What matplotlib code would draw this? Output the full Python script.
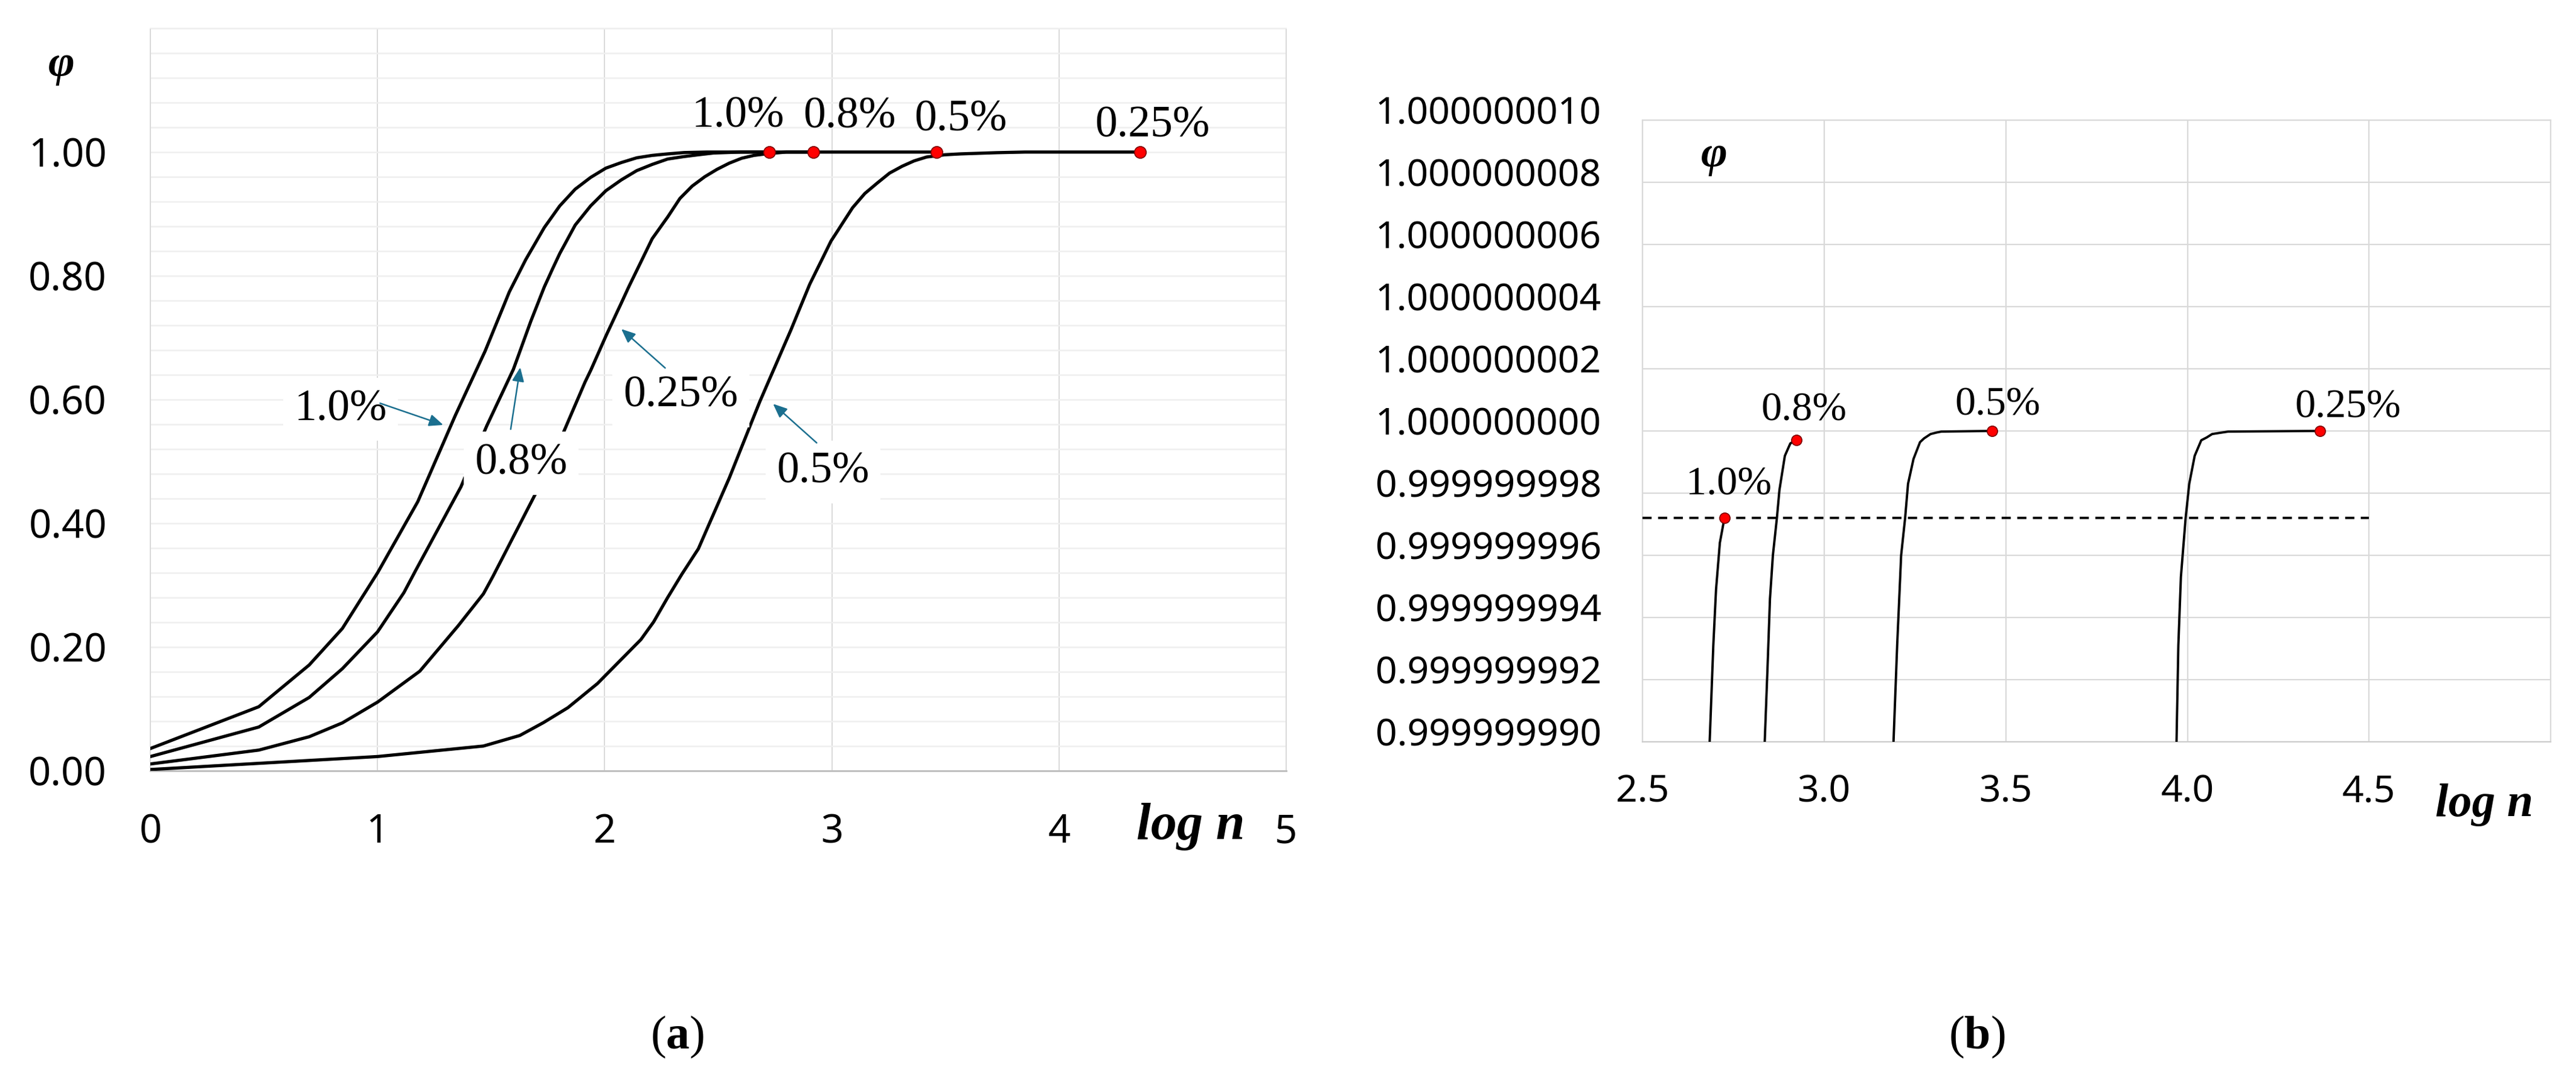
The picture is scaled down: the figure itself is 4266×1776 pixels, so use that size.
import numpy as np
import matplotlib
matplotlib.use("Agg")
import matplotlib.pyplot as plt
import matplotlib.transforms as mtransforms

plt.rcParams["mathtext.fontset"] = "custom"
plt.rcParams["mathtext.rm"] = "Liberation Serif"
plt.rcParams["mathtext.bf"] = "Liberation Serif:bold"
plt.rcParams["mathtext.it"] = "Liberation Serif:italic"

# ---- panel (a): phi vs log n ----
x_a_10 = [0, 0.477, 0.699, 0.845, 1.0, 1.177, 1.26, 1.343, 1.396, 1.473, 1.58, 1.652,
          1.734, 1.802, 1.870, 1.938, 2.005, 2.073, 2.141, 2.209, 2.277, 2.35, 2.45, 2.725]
phi_a_10 = [0.036, 0.1035, 0.171, 0.230, 0.320, 0.435, 0.505, 0.575, 0.617, 0.678, 0.774,
            0.826, 0.878, 0.913, 0.940, 0.959, 0.974, 0.983, 0.9907, 0.9946, 0.997, 0.9992,
            1.0, 1.0]

x_a_08 = [0, 0.477, 0.699, 0.845, 1.0, 1.116, 1.165, 1.367, 1.48, 1.598, 1.675, 1.734,
          1.77, 1.802, 1.870, 1.938, 2.005, 2.073, 2.141, 2.209, 2.277, 2.345, 2.412, 2.48,
          2.6, 2.918]
phi_a_08 = [0.023, 0.0707, 0.1185, 0.165, 0.2246, 0.288, 0.322, 0.459, 0.557, 0.649, 0.727,
            0.782, 0.811, 0.836, 0.882, 0.913, 0.9375, 0.955, 0.970, 0.980, 0.9887, 0.9925,
            0.9956, 0.9985, 1.0, 1.0]

x_a_05 = [0, 0.477, 0.699, 0.845, 1.0, 1.186, 1.354, 1.466, 1.509, 1.711, 1.802, 1.913,
          1.938, 2.008, 2.073, 2.103, 2.209, 2.277, 2.331, 2.385, 2.440, 2.494, 2.548, 2.603,
          2.657, 2.72, 2.80, 3.461]
phi_a_05 = [0.011, 0.0334, 0.055, 0.0774, 0.111, 0.161, 0.234, 0.286, 0.315, 0.459, 0.533,
            0.628, 0.647, 0.705, 0.756, 0.780, 0.860, 0.895, 0.925, 0.945, 0.960, 0.972,
            0.982, 0.990, 0.9946, 0.9975, 1.0, 1.0]

x_a_025 = [0, 0.477, 1.0, 1.466, 1.626, 1.731, 1.838, 1.968, 2.159, 2.215, 2.277, 2.340,
           2.412, 2.548, 2.683, 2.819, 2.902, 2.996, 3.091, 3.145, 3.200, 3.254, 3.309,
           3.362, 3.417, 3.497, 3.566, 3.726, 3.85, 4.357]
phi_a_025 = [0.002, 0.012, 0.023, 0.040, 0.057, 0.078, 0.102, 0.141, 0.212, 0.2405, 0.280,
             0.318, 0.3587, 0.473, 0.597, 0.712, 0.786, 0.856, 0.910, 0.933, 0.950, 0.966,
             0.977, 0.9857, 0.992, 0.9956, 0.997, 0.999, 1.0, 1.0]

dots_a_x = [2.725, 2.918, 3.461, 4.357]
dots_a_phi = [1.0, 1.0, 1.0, 1.0]

rates = ["1.0%", "0.8%", "0.5%", "0.25%"]
xticks_a = [0, 1, 2, 3, 4, 5]
yticks_a = [0.0, 0.2, 0.4, 0.6, 0.8, 1.0]
ylabels_a = ["0.00", "0.20", "0.40", "0.60", "0.80", "1.00"]

# ---- panel (b): zoom near phi = 1 ----
x_b_10 = [2.685, 2.695, 2.7025, 2.713, 2.7257]
phi_b_10 = [0.9999999900, 0.9999999931, 0.9999999949, 0.9999999964, 0.9999999972]

x_b_08 = [2.8365, 2.844, 2.851, 2.859, 2.870, 2.877, 2.892, 2.907, 2.924]
phi_b_08 = [0.9999999900, 0.9999999923, 0.9999999946, 0.9999999960, 0.9999999972,
            0.9999999981, 0.9999999992, 0.9999999996, 0.9999999997]

x_b_05 = [3.191, 3.201, 3.212, 3.223, 3.231, 3.246, 3.253, 3.264, 3.275, 3.293, 3.31,
          3.323, 3.463]
phi_b_05 = [0.9999999900, 0.9999999931, 0.9999999960, 0.9999999972, 0.9999999983,
            0.9999999991, 0.99999999931, 0.99999999964, 0.99999999976, 0.9999999999,
            0.99999999995, 0.99999999998, 1.0]

x_b_025 = [3.970, 3.975, 3.982, 3.995, 4.005, 4.020, 4.038, 4.053, 4.068, 4.09, 4.1125,
           4.365]
phi_b_025 = [0.9999999900, 0.9999999931, 0.9999999953, 0.9999999972, 0.9999999983,
             0.9999999992, 0.9999999997, 0.99999999979, 0.9999999999, 0.99999999994,
             0.99999999998, 1.0]

dots_b_x = [2.7257, 2.924, 3.463, 4.365]
dots_b_phi = [0.9999999972, 0.9999999997, 1.0, 1.0]

level_b = 0.9999999972
level_b_x = [2.5, 4.5]

xticks_b = [2.5, 3.0, 3.5, 4.0, 4.5]
xlabels_b = ["2.5", "3.0", "3.5", "4.0", "4.5"]
ylabels_b = ["0.999999990", "0.999999992", "0.999999994", "0.999999996", "0.999999998",
             "1.000000000", "1.000000002", "1.000000004", "1.000000006", "1.000000008",
             "1.000000010"]
yticks_b = [float(s) for s in ylabels_b]

sans = ["Noto Sans", "DejaVu Sans"]
serif = ["Liberation Serif", "DejaVu Serif"]
arrow_color = "#1b6f8f"

fig = plt.figure(figsize=(4266 / 200, 1776 / 200), dpi=200)

# ================= (a) =================
ax1 = fig.add_axes([0.0584, 0.2810, 0.4409, 0.6926])
ax1.set_xlim(0, 5)
ax1.set_ylim(0, 1.2)

for xs, ys in [(x_a_10, phi_a_10), (x_a_08, phi_a_08), (x_a_05, phi_a_05), (x_a_025, phi_a_025)]:
    ax1.plot(xs, ys, color="black", lw=1.9, zorder=3, solid_joinstyle="round")
ax1.plot(dots_a_x, dots_a_phi, "o", ms=7, mfc="red", mec="#7a0000", mew=0.6, zorder=6)

ax1.set_xticks(xticks_a)
ax1.set_xticklabels([str(v) for v in xticks_a])
ax1.set_yticks(yticks_a)
ax1.set_yticklabels(ylabels_a)
ax1.set_yticks(np.arange(0, 1.2001, 0.04), minor=True)
ax1.tick_params(axis="both", which="both", length=0)
ax1.tick_params(axis="x", pad=25, labelsize=23.5)
ax1.tick_params(axis="y", pad=26, labelsize=23.5)
for lab in ax1.get_xticklabels() + ax1.get_yticklabels():
    lab.set_family(sans)
ax1.grid(axis="y", which="both", color="#efefef", lw=0.9, zorder=0)
ax1.grid(axis="x", which="major", color="#d9d9d9", lw=0.7, zorder=0)
ax1.set_axisbelow(True)
ax1.spines["left"].set_color("#d9d9d9")
ax1.spines["right"].set_color("#d9d9d9")
ax1.spines["top"].set_color("#efefef")
ax1.spines["bottom"].set_color("#bfbfbf")
ax1.spines["bottom"].set_linewidth(1.1)
for s in ["left", "right", "top"]:
    ax1.spines[s].set_linewidth(0.7)

# labels at the end points
for txt, pos in zip(rates, [(2.588, 1.058), (3.077, 1.057), (3.567, 1.052), (4.41, 1.042)]):
    ax1.text(pos[0], pos[1], txt, ha="center", va="center", fontsize=26.5, family=serif, zorder=7)

# labels with arrows along the curves
mids = [("1.0%", (0.837, 0.584), (1.011, 0.594), (1.289, 0.559)),
        ("0.8%", (1.632, 0.497), (1.586, 0.552), (1.628, 0.652)),
        ("0.25%", (2.334, 0.606), (2.266, 0.651), (2.073, 0.714)),
        ("0.5%", (2.960, 0.483), (2.933, 0.530), (2.741, 0.593))]
for txt, tpos, start, tip in mids:
    ax1.text(tpos[0], tpos[1], txt, ha="center", va="center", fontsize=26.5, family=serif,
             bbox=dict(boxstyle="square,pad=0.25", fc="white", ec="none"), zorder=4)
    ax1.annotate("", xy=tip, xytext=start,
                 arrowprops=dict(arrowstyle="-|>,head_length=0.7,head_width=0.3",
                                 color=arrow_color, lw=0.9, shrinkA=0, shrinkB=0),
                 zorder=5)

ax1.text(-0.391, 1.14, "φ", ha="center", va="center", fontsize=27, family=serif,
         fontweight="bold", fontstyle="italic", clip_on=False)
ax1.text(4.58, -0.0756, "log n", transform=ax1.get_xaxis_transform(), ha="center",
         va="center", fontsize=31, family=serif, fontweight="bold", fontstyle="italic")

# ================= (b) =================
ax2 = fig.add_axes([0.6376, 0.3080, 0.3526, 0.5800])
ax2.set_xlim(2.5, 5.0)
ax2.set_ylim(yticks_b[0], yticks_b[-1])

for xs, ys in [(x_b_10, phi_b_10), (x_b_08, phi_b_08), (x_b_05, phi_b_05), (x_b_025, phi_b_025)]:
    ax2.plot(xs, ys, color="black", lw=1.4, zorder=3, solid_joinstyle="round")
ax2.plot(level_b_x, [level_b, level_b], color="black", lw=1.4, ls=(0, (3.9, 2.75)), zorder=3)
ax2.plot(dots_b_x, dots_b_phi, "o", ms=6.2, mfc="red", mec="#7a0000", mew=0.6, zorder=6)

ax2.set_xticks(xticks_b)
ax2.set_xticklabels(xlabels_b)
ax2.set_yticks(yticks_b)
ax2.set_yticklabels(ylabels_b)
ax2.tick_params(axis="both", length=0, labelsize=22.5)
ax2.tick_params(axis="x", pad=19)
ax2.tick_params(axis="y", pad=24.5)
offset = mtransforms.ScaledTranslation(0, 6 / 72, fig.dpi_scale_trans)
for lab in ax2.get_yticklabels():
    lab.set_transform(lab.get_transform() + offset)
for lab in ax2.get_xticklabels() + ax2.get_yticklabels():
    lab.set_family(sans)
ax2.grid(True, color="#d9d9d9", lw=0.8, zorder=0)
ax2.set_axisbelow(True)
for s in ["left", "right", "top", "bottom"]:
    ax2.spines[s].set_color("#d9d9d9")
    ax2.spines[s].set_linewidth(0.8)
ax2.spines["bottom"].set_color("#cccccc")

for txt, pos in zip(rates, [(2.737, 0.99999999827), (2.944, 1.00000000066),
                            (3.478, 1.00000000083), (4.442, 1.00000000076)]):
    ax2.text(pos[0], pos[1], txt, ha="center", va="center", fontsize=24.5, family=serif, zorder=7)

ax2.text(2.698, 1.00000000885, "φ", ha="center", va="center", fontsize=27, family=serif,
         fontweight="bold", fontstyle="italic")
ax2.text(4.817, -0.101, "log n", transform=ax2.get_xaxis_transform(), ha="center",
         va="center", fontsize=28, family=serif, fontweight="bold", fontstyle="italic")

fig.text(0.263, 0.0327, r"($\mathbf{a}$)", ha="center", va="center", fontsize=28, family=serif)
fig.text(0.7675, 0.0327, r"($\mathbf{b}$)", ha="center", va="center", fontsize=28, family=serif)

fig.savefig("out.png", dpi=200, facecolor="white")
